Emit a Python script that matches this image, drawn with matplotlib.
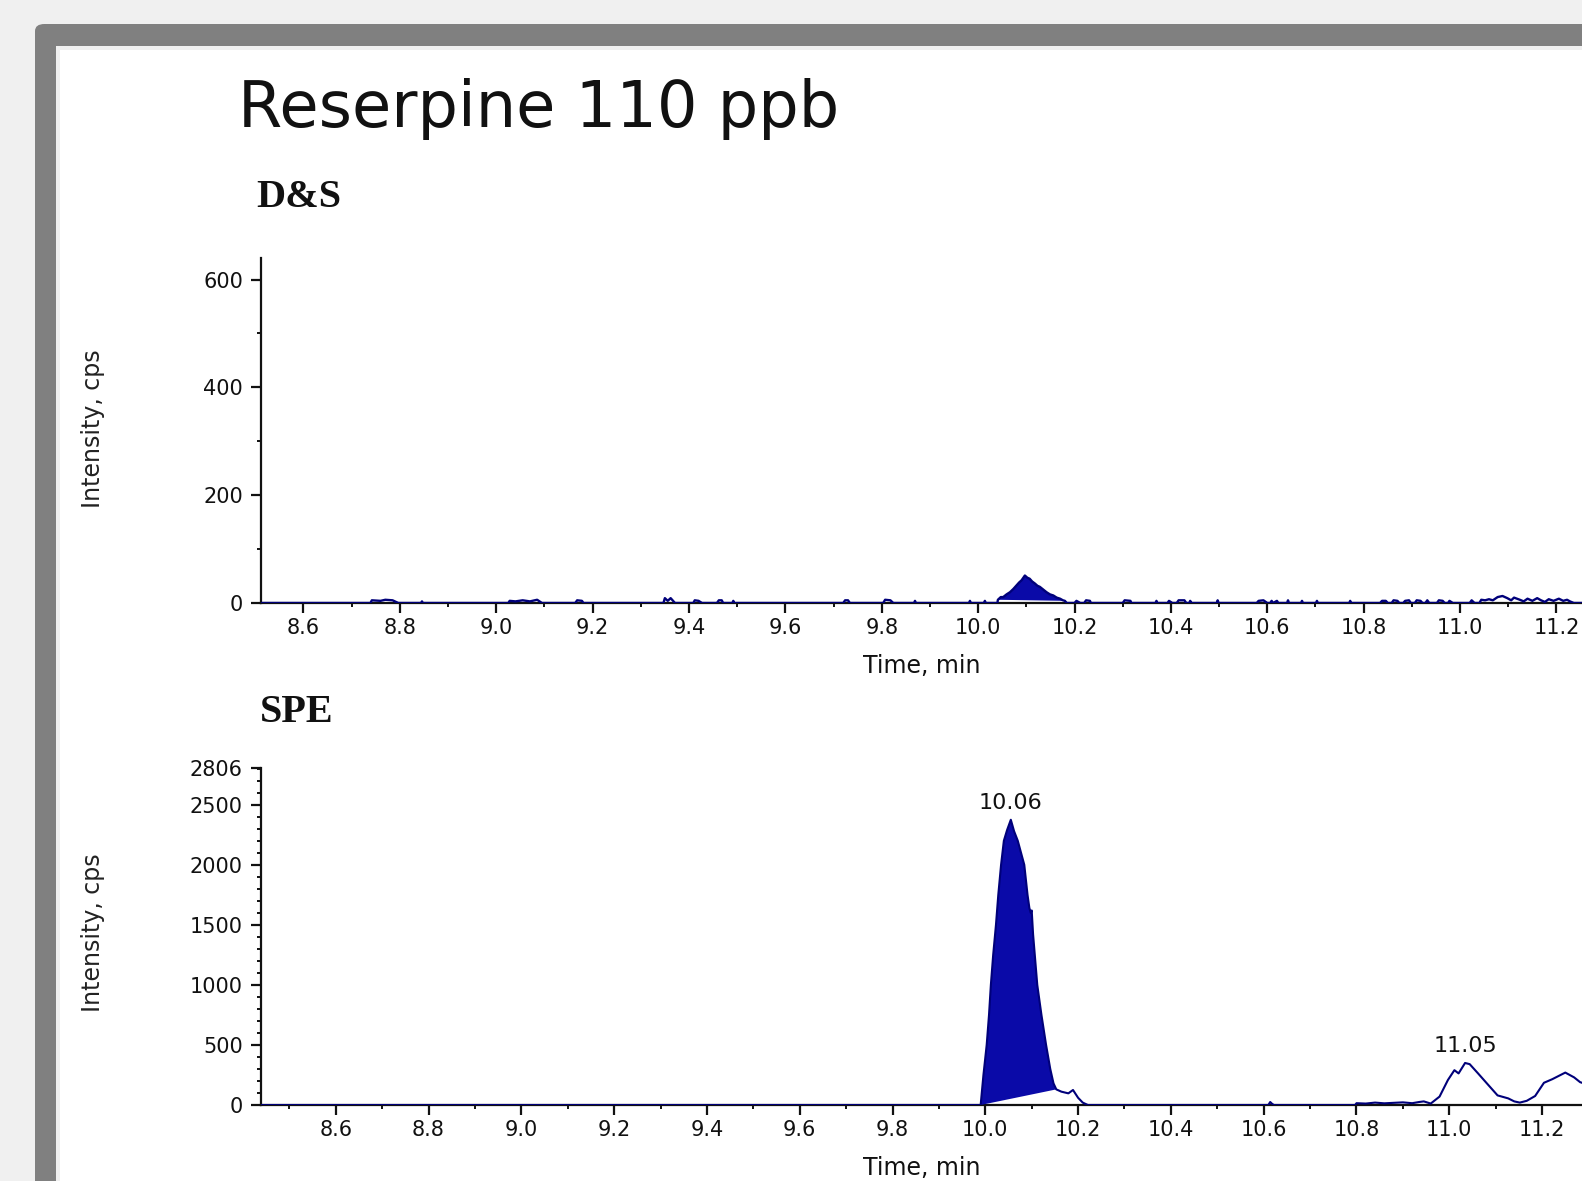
import numpy as np
import matplotlib
matplotlib.use("Agg")
import matplotlib.pyplot as plt
from matplotlib.patches import FancyBboxPatch, Rectangle
from matplotlib.ticker import MultipleLocator, FixedLocator

# ---------------- data ----------------
title = "Reserpine 110 ppb"
panel_names = ["D&S", "SPE"]
x_label = "Time, min"
y_label = "Intensity, cps"

x_ticks = [8.6, 8.8, 9.0, 9.2, 9.4, 9.6, 9.8, 10.0, 10.2, 10.4, 10.6, 10.8, 11.0, 11.2]
dns_yticks = [0, 200, 400, 600]
spe_yticks = [0, 500, 1000, 1500, 2000, 2500, 2806]

# D&S chromatogram (time, min ; intensity, cps)
dns_t = [8.512, 8.739, 8.742, 8.760, 8.770, 8.785, 8.797, 8.844, 8.846, 8.848,
         9.025, 9.028, 9.040, 9.055, 9.070, 9.085, 9.095, 9.164, 9.168, 9.178, 9.181,
         9.347, 9.350, 9.356, 9.362, 9.371, 9.409, 9.412, 9.420, 9.427,
         9.458, 9.462, 9.468, 9.471, 9.490, 9.492, 9.494,
         9.720, 9.724, 9.730, 9.734, 9.803, 9.807, 9.818, 9.824, 9.867, 9.869, 9.871,
         9.981, 9.983, 9.985, 10.012, 10.014, 10.016,
         10.040, 10.041, 10.047, 10.052, 10.059, 10.066, 10.073, 10.080, 10.085, 10.090,
         10.097, 10.102, 10.107, 10.112, 10.118, 10.123, 10.128, 10.135, 10.142, 10.149,
         10.156, 10.163, 10.170, 10.176, 10.180, 10.184,
         10.200, 10.204, 10.212, 10.220, 10.224, 10.232, 10.234,
         10.300, 10.304, 10.316, 10.318, 10.368, 10.370, 10.372,
         10.393, 10.396, 10.403, 10.412, 10.416, 10.428, 10.432, 10.438, 10.440, 10.443,
         10.495, 10.497, 10.499, 10.578, 10.582, 10.592, 10.600, 10.606, 10.609, 10.612,
         10.620, 10.623, 10.641, 10.643, 10.645, 10.670, 10.672, 10.674, 10.701, 10.703,
         10.705, 10.770, 10.772, 10.774, 10.834, 10.838, 10.846, 10.850, 10.858, 10.862,
         10.870, 10.874, 10.882, 10.886, 10.894, 10.898, 10.906, 10.910, 10.918, 10.922,
         10.928, 10.932, 10.936, 10.952, 10.956, 10.964, 10.968, 10.975, 10.978, 10.985,
         11.020, 11.024, 11.030, 11.040, 11.044, 11.052, 11.060, 11.068, 11.078, 11.088,
         11.098, 11.106, 11.112, 11.124, 11.132, 11.140, 11.150, 11.160, 11.168, 11.176,
         11.184, 11.194, 11.205, 11.214, 11.222, 11.228, 11.236, 11.260]
dns_v = [0, 0, 5, 4, 6, 5, 0, 0, 3, 0,
         0, 4, 3, 5, 3, 6, 0, 0, 5, 4, 0,
         0, 9, 4, 9, 0, 0, 5, 4, 0,
         0, 5, 5, 0, 0, 4, 0,
         0, 5, 5, 0, 0, 6, 5, 0, 0, 4, 0,
         0, 4, 0, 0, 4, 0,
         0, 6, 11, 11, 16, 20, 26, 33, 38, 42,
         51, 47, 45, 40, 36, 32, 30, 25, 20, 16,
         14, 10, 8, 5, 4, 0,
         0, 4, 0, 0, 5, 4, 0,
         0, 5, 4, 0, 0, 4, 0,
         0, 4, 0, 0, 5, 5, 0, 0, 4, 0,
         0, 5, 0, 0, 4, 5, 0, 0, 4, 0,
         4, 0, 0, 5, 0, 0, 4, 0, 0, 4,
         0, 0, 4, 0, 0, 4, 4, 0, 0, 5,
         4, 0, 0, 4, 5, 0, 0, 5, 4, 0,
         0, 5, 0, 0, 5, 4, 0, 0, 4, 0,
         0, 5, 0, 0, 6, 5, 7, 5, 11, 13,
         9, 5, 10, 6, 3, 8, 4, 9, 5, 2,
         7, 4, 8, 4, 6, 3, 0, 0]
dns_peak_start, dns_peak_end = 10.041, 10.180

# SPE chromatogram
spe_t = [8.44, 9.985, 9.990, 9.996, 10.003, 10.008, 10.012, 10.017, 10.023, 10.028,
         10.034, 10.040, 10.047, 10.055, 10.062, 10.070, 10.077, 10.084, 10.091, 10.095,
         10.098, 10.100, 10.103, 10.112, 10.121, 10.131, 10.140, 10.147, 10.153, 10.164,
         10.179, 10.189, 10.200, 10.210, 10.221, 10.610, 10.614, 10.618, 10.622, 10.797,
         10.800, 10.820, 10.840, 10.860, 10.880, 10.900, 10.920, 10.935, 10.945, 10.960,
         10.979, 10.997, 11.011, 11.020, 11.034, 11.044, 11.062, 11.081, 11.104, 11.127,
         11.140, 11.152, 11.167, 11.185, 11.204, 11.222, 11.250, 11.269, 11.282, 11.290]
spe_v = [0, 0, 0, 250, 500, 750, 1000, 1250, 1500, 1750,
         2000, 2200, 2290, 2375, 2280, 2200, 2100, 2000, 1750, 1640,
         1600, 1620, 1420, 1000, 750, 500, 300, 180, 130, 111,
         97, 125, 60, 20, 0, 0, 25, 10, 0, 0,
         15, 12, 20, 14, 18, 22, 15, 25, 30, 12,
         70, 208, 290, 263, 350, 340, 263, 180, 80, 55,
         30, 20, 35, 75, 185, 215, 270, 230, 190, 180]
spe_peak_start, spe_peak_end = 9.990, 10.153
peak_labels = ["10.06", "11.05"]
peak_label_times = [10.055, 11.034]

# ---------------- style ----------------
W, H = 1582, 1181
fill_col = "#0a0aa8"
line_col = "#00007a"
tick_font = "DejaVu Sans"
tick_size = 15

fig = plt.figure(figsize=(W / 100, H / 100), dpi=100, facecolor="#f0f0f0")

def fx(px):
    return px / W

def fy(py):
    return 1 - py / H

# frame
frame = FancyBboxPatch((fx(35), fy(1400)), fx(2000), fy(24) - fy(1400),
                       boxstyle="round,pad=0,rounding_size=0.006",
                       transform=fig.transFigure, facecolor="#808080",
                       edgecolor="none", zorder=-10)
fig.patches.append(frame)
strip = Rectangle((fx(56), fy(1400)), fx(2000), fy(46) - fy(1400),
                  transform=fig.transFigure, facecolor="#f0f0f0",
                  edgecolor="none", zorder=-9)
fig.patches.append(strip)
inner = Rectangle((fx(60), fy(1400)), fx(2000), fy(50) - fy(1400),
                  transform=fig.transFigure, facecolor="white",
                  edgecolor="none", zorder=-8)
fig.patches.append(inner)

# texts
fig.text(fx(238), fy(127), title, fontsize=46, family="DejaVu Sans",
         color="#111111", ha="left", va="baseline")
fig.text(fx(256), fy(207), panel_names[0], fontsize=29, family="Liberation Serif",
         weight="bold", color="#111111", ha="left", va="baseline")
fig.text(fx(260), fy(722), panel_names[1], fontsize=29, family="Liberation Serif",
         weight="bold", color="#111111", ha="left", va="baseline")
for yc in (429, 933):
    fig.text(fx(93), fy(yc), y_label, fontsize=17, family=tick_font,
             color="#222222", rotation=90, ha="center", va="center")

def style_axes(ax):
    ax.set_facecolor("none")
    for s in ("top", "right"):
        ax.spines[s].set_visible(False)
    for s in ("left", "bottom"):
        ax.spines[s].set_linewidth(1.6)
        ax.spines[s].set_color("#111111")
    ax.tick_params(which="major", direction="out", length=7, width=1.6,
                   labelsize=tick_size, colors="#111111", pad=4)
    ax.tick_params(which="minor", direction="out", length=3, width=1.4,
                   colors="#111111")
    ax.tick_params(axis="y", which="major", pad=6)
    ax.xaxis.set_major_locator(FixedLocator(x_ticks))
    ax.xaxis.set_minor_locator(MultipleLocator(0.1))
    ax.set_xlabel(x_label, fontsize=17, family=tick_font, color="#111111",
                  labelpad=11)

# D&S panel
ax1 = fig.add_axes([fx(261), fy(603), 1 - fx(261), fy(258) - fy(603)])
ax1.set_xlim(8.512, 11.253)
ax1.set_ylim(0, 640)
style_axes(ax1)
ax1.yaxis.set_major_locator(FixedLocator(dns_yticks))
ax1.yaxis.set_minor_locator(MultipleLocator(100))
ax1.set_xticklabels([f"{v:.1f}" for v in x_ticks], family=tick_font)
ax1.set_yticklabels([str(v) for v in dns_yticks], family=tick_font)
t1 = np.array(dns_t); v1 = np.array(dns_v)
m1 = (t1 >= dns_peak_start) & (t1 <= dns_peak_end)
ax1.fill(t1[m1], v1[m1], color=fill_col, lw=0, zorder=3)
ax1.plot(t1, v1, color=line_col, lw=1.7, zorder=4)

# SPE panel
ax2 = fig.add_axes([fx(261), fy(1105), 1 - fx(261), fy(768) - fy(1105)])
ax2.set_xlim(8.439, 11.286)
ax2.set_ylim(0, 2806)
style_axes(ax2)
ax2.yaxis.set_major_locator(FixedLocator(spe_yticks))
ax2.yaxis.set_minor_locator(MultipleLocator(100))
ax2.set_xticklabels([f"{v:.1f}" for v in x_ticks], family=tick_font)
ax2.set_yticklabels([str(v) for v in spe_yticks], family=tick_font)
t2 = np.array(spe_t); v2 = np.array(spe_v)
m2 = (t2 >= spe_peak_start) & (t2 <= spe_peak_end)
ax2.fill(t2[m2], v2[m2], color=fill_col, lw=0, zorder=3)
ax2.plot(t2, v2, color=line_col, lw=1.5, zorder=4)

for lab, tt in zip(peak_labels, peak_label_times):
    i = int(np.argmin(np.abs(t2 - tt)))
    ax2.annotate(lab, xy=(t2[i], v2[i]), xytext=(0, 5), textcoords="offset points",
                 ha="center", va="bottom", fontsize=16, family=tick_font,
                 color="#111111")

fig.savefig("out.png", dpi=100, facecolor=fig.get_facecolor())
